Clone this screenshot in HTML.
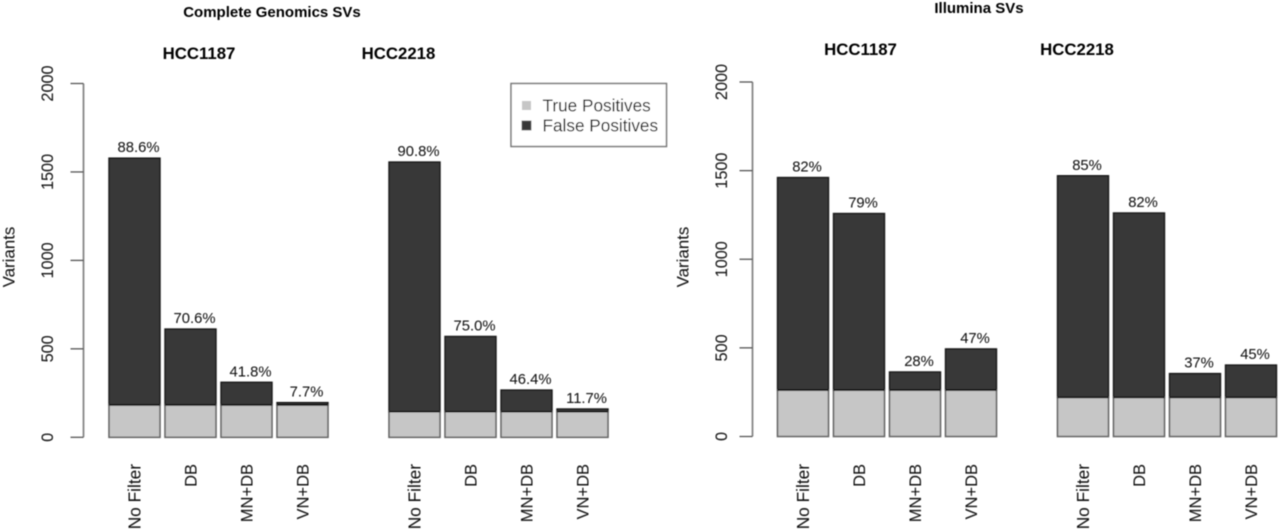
<!DOCTYPE html>
<html lang="en">
<head>
<meta charset="utf-8">
<title>Complete Genomics and Illumina SVs</title>
<style>
html,body{margin:0;padding:0;background:#fff;width:1280px;height:530px;overflow:hidden}
svg{display:block}
text{font-family:"Liberation Sans",Arial,sans-serif;fill:#0a0a0a}
.bold{font-weight:bold;fill:#000}
</style>
</head>
<body>
<svg id="chart" xmlns="http://www.w3.org/2000/svg" width="1280" height="530" viewBox="0 0 1280 530">
  <defs><filter id="soft" x="-2%" y="-2%" width="104%" height="104%"><feGaussianBlur stdDeviation="0.4"/></filter></defs>
  <g id="root" filter="url(#soft)">
    <text class="bold" x="272" y="17" font-size="15" text-anchor="middle">Complete Genomics SVs</text>
    <text class="bold" x="979" y="13" font-size="15" text-anchor="middle">Illumina SVs</text>
    <g>
      <rect x="511" y="83.5" width="155.5" height="63" fill="#fff" stroke="#777" stroke-width="1.5"/>
      <rect x="522" y="101" width="9" height="9" fill="#c6c6c6"/>
      <rect x="522" y="121" width="9" height="9" fill="#383838" stroke="#555" stroke-width="0.8"/>
      <text x="542.5" y="111.5" font-size="17.2">True Positives</text>
      <text x="542.5" y="131.5" font-size="17.2">False Positives</text>
    </g>
  </g>
</svg>
<script>
const categories = ['No Filter', 'DB', 'MN+DB', 'VN+DB'];
const yTicks = [0, 500, 1000, 1500, 2000];
const sampleNames = ['HCC1187', 'HCC2218', 'HCC1187', 'HCC2218'];

const cgHcc1187Totals = [1578, 612, 311, 196];
const cgHcc1187TruePositives = [183, 183, 183, 183];
const cgHcc1187Labels = ['88.6%', '70.6%', '41.8%', '7.7%'];

const cgHcc2218Totals = [1556, 570, 267, 160];
const cgHcc2218TruePositives = [145, 145, 145, 145];
const cgHcc2218Labels = ['90.8%', '75.0%', '46.4%', '11.7%'];

const ilHcc1187Totals = [1461, 1258, 364, 494];
const ilHcc1187TruePositives = [262, 262, 262, 262];
const ilHcc1187Labels = ['82%', '79%', '28%', '47%'];

const ilHcc2218Totals = [1471, 1261, 355, 403];
const ilHcc2218TruePositives = [221, 221, 221, 221];
const ilHcc2218Labels = ['85%', '82%', '37%', '45%'];

const NS = 'http://www.w3.org/2000/svg';
const root = document.getElementById('root');

function make(tag, attrs, parent, content) {
  const el = document.createElementNS(NS, tag);
  for (const k in attrs) el.setAttribute(k, attrs[k]);
  if (content !== undefined) el.textContent = content;
  parent.appendChild(el);
  return el;
}

function drawAxis(axisX, y, tickX, titleX, nameKey) {
  const g = make('g', {}, root);
  
  
  const line = make('line', { x1: axisX, x2: axisX, y1: y(2000), y2: y(0), stroke: '#808080', 'stroke-width': 1.7 }, g);
  
  
  yTicks.forEach(function (v) {
    const tick = make('line', { x1: axisX - 13, x2: axisX, y1: y(v), y2: y(v), stroke: '#555', 'stroke-width': 1.3 }, g);
    
    
    const label = make('text', { 'font-size': 16.3, 'text-anchor': 'middle', transform: 'translate(' + tickX + ',' + y(v) + ') rotate(-90)' }, g, String(v));
    
    
  });
  const title = make('text', { 'font-size': 16.9, 'text-anchor': 'middle', transform: 'translate(' + titleX + ',257) rotate(-90)' }, g, 'Variants');
  
  
}

function drawPanel(left, y, totals, truePositives, labels, nameKey) {
  const barWidth = 51;
  const step = 56;
  const x = function (i) { return left + i * step; };
  const g = make('g', {}, root);
  
  
  categories.forEach(function (cat, i) {
    const fp = make('rect', { x: x(i), y: y(totals[i]), width: barWidth, height: y(truePositives[i]) - y(totals[i]), fill: '#383838', stroke: '#151515', 'stroke-width': 1.4 }, g);
    
    
    const tp = make('rect', { x: x(i), y: y(truePositives[i]), width: barWidth, height: y(0) - y(truePositives[i]), fill: '#c6c6c6', stroke: '#666', 'stroke-width': 1.6 }, g);
    
    
    const divider = make('line', { x1: x(i), x2: x(i) + barWidth, y1: y(truePositives[i]), y2: y(truePositives[i]), stroke: '#000', 'stroke-width': 1.5 }, g);
    
    
    const val = make('text', { x: x(i) + barWidth / 2 + 4, y: y(totals[i]) - 6, 'font-size': 14.8, 'text-anchor': 'middle' }, g, labels[i]);
    
    
    const cx = x(i) + barWidth / 2 + 6;
    const catLabel = make('text', { 'font-size': i === 0 ? 17.3 : 16.5, 'text-anchor': 'end', transform: 'translate(' + cx + ',464) rotate(-90)' }, g, cat);
    
    
  });
}

function drawSampleTitle(cx, baseline, name) {
  const t = make('text', { x: cx, y: baseline, 'font-size': 16.8, 'text-anchor': 'middle', class: 'bold' }, root, name);
  
  
}

const yLeft = function (v) { return 437.3 - v * (353.8 / 2000); };
const yRight = function (v) { return 436.5 - v * (354.5 / 2000); };

drawAxis(83.5, yLeft, 53, 14.7, 'complete-genomics');
drawAxis(752.5, yRight, 727, 688.3, 'illumina');

drawPanel(109, yLeft, cgHcc1187Totals, cgHcc1187TruePositives, cgHcc1187Labels, 'complete-genomics-hcc1187');
drawPanel(389, yLeft, cgHcc2218Totals, cgHcc2218TruePositives, cgHcc2218Labels, 'complete-genomics-hcc2218');
drawPanel(777.5, yRight, ilHcc1187Totals, ilHcc1187TruePositives, ilHcc1187Labels, 'illumina-hcc1187');
drawPanel(1057.5, yRight, ilHcc2218Totals, ilHcc2218TruePositives, ilHcc2218Labels, 'illumina-hcc2218');

drawSampleTitle(199, 59, sampleNames[0]);
drawSampleTitle(398.5, 59, sampleNames[1]);
drawSampleTitle(860.5, 55, sampleNames[2]);
drawSampleTitle(1077, 55, sampleNames[3]);
</script>
</body>
</html>
